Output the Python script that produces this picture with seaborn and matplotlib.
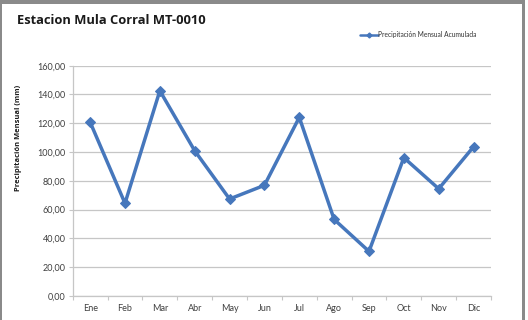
import matplotlib
matplotlib.use("Agg")
import matplotlib.pyplot as plt
from matplotlib.patches import Rectangle
from matplotlib.lines import Line2D
import pandas as pd
import seaborn as sns

months = ["Ene", "Feb", "Mar", "Abr", "May", "Jun",
          "Jul", "Ago", "Sep", "Oct", "Nov", "Dic"]
precip = [120.8, 64.4, 142.6, 100.9, 67.4, 76.9,
          124.1, 53.2, 31.0, 96.1, 74.5, 103.7]
y_ticks = [0, 20, 40, 60, 80, 100, 120, 140, 160]

title = "Estacion Mula Corral MT-0010"
series_name = "Precipitación Mensual Acumulada"
y_label = "Precipitación Mensual (mm)"

df = pd.DataFrame({"pos": range(len(months)), "mes": months, "valor": precip})

sns.set_theme(style="white")
plt.rcParams["font.family"] = ["Lato", "DejaVu Sans"]
bold_font = ["Open Sans", "DejaVu Sans"]

W, H = 528, 320
fig = plt.figure(figsize=(W / 100, H / 100), dpi=100)
fig.patch.set_facecolor("white")

ax = fig.add_axes([72.7 / W, 1 - 296 / H, (491 - 72.7) / W, (296 - 65.7) / H])

blue = "#4677BC"
sns.lineplot(data=df, x="pos", y="valor", ax=ax, color=blue, linewidth=2.5,
             marker="D", markersize=5.5, markeredgecolor=blue,
             markerfacecolor=blue, legend=False)

ax.set_xlim(-0.5, len(months) - 0.5)
ax.set_ylim(0, 160)
ax.set_yticks(y_ticks)
ax.set_yticklabels([f"{v:.2f}".replace(".", ",") for v in y_ticks])
ax.set_xticks(range(len(months)))
ax.set_xticklabels(months)
ax.set_xticks([i - 0.5 for i in range(len(months) + 1)], minor=True)

ax.grid(axis="y", color="#C6C6C6", linewidth=0.9)
ax.set_axisbelow(True)
for side in ["top", "right"]:
    ax.spines[side].set_visible(False)
for side in ["left", "bottom"]:
    ax.spines[side].set_color("#C6C6C6")
    ax.spines[side].set_linewidth(0.9)

ax.tick_params(axis="y", which="major", length=3, width=0.8, color="#C6C6C6",
               labelsize=6.5, labelcolor="#404040", pad=2, left=True)
ax.tick_params(axis="x", which="major", length=0, labelsize=6.5,
               labelcolor="#404040", pad=6)
ax.tick_params(axis="x", which="minor", length=3, width=0.8,
               color="#C6C6C6", bottom=True)

ax.set_xlabel("")
ax.set_ylabel(y_label, fontsize=5.4, fontweight="bold", color="#1a1a1a",
              family=bold_font)
ax.yaxis.set_label_coords(-0.121, 0.685)

fig.text(17 / W, 1 - 20 / H, title, fontsize=9.3, fontweight="bold",
         color="#1a1a1a", va="center", ha="left", family=bold_font)

handle = Line2D([], [], color=blue, linewidth=1.8, marker="D", markersize=2.5)
fig.legend([handle], [series_name], loc="center left",
           bbox_to_anchor=(357 / W, 1 - 35 / H), frameon=False,
           prop={"size": 4.8}, handlelength=2.6, handletextpad=0.1,
           borderpad=0, labelcolor="#333333")

# window frame around the chart
frame = "#8A8A8A"
fig.add_artist(Rectangle((0, 1 - 4 / H), 524 / W, 4 / H, transform=fig.transFigure,
                         color=frame, lw=0))
fig.add_artist(Rectangle((0, 0), 1.5 / W, 1, transform=fig.transFigure,
                         color=frame, lw=0))
fig.add_artist(Rectangle((521.5 / W, 0), 3.5 / W, 1, transform=fig.transFigure,
                         color=frame, lw=0))

fig.savefig("out.png", dpi=100)
